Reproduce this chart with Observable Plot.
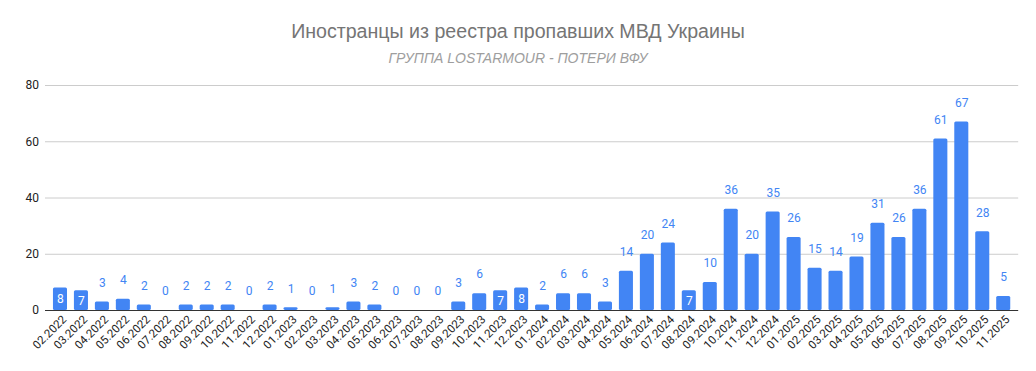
<!DOCTYPE html>
<html>
<head>
<meta charset="utf-8">
<script src="https://cdn.jsdelivr.net/npm/d3@7"></script>
<script src="https://cdn.jsdelivr.net/npm/@observablehq/plot@0.6"></script>
<style>
  html, body { margin: 0; padding: 0; background: #fff; }
  #wrap { width: 1036px; height: 371px; position: relative; overflow: hidden; font-family: Roboto, "Liberation Sans", sans-serif; }
  #head { position: relative; height: 70px; }
  #title { position: absolute; left: 0; width: 1036px; top: 20px; text-align: center; font-size: 19.6px; color: #757575; font-family: "Liberation Sans", Arial, sans-serif; }
  #subtitle { position: absolute; left: 0; width: 1036px; top: 50px; text-align: center; font-size: 14px; font-style: italic; color: #9e9e9e; font-family: "Liberation Sans", Arial, sans-serif; }
  #chart svg { display: block; }
</style>
</head>
<body>
<div id="wrap">
  <div id="head">
    <div id="title">Иностранцы из реестра пропавших МВД Украины</div>
    <div id="subtitle">ГРУППА LOSTARMOUR - ПОТЕРИ ВФУ</div>
  </div>
  <div id="chart"></div>
</div>
<script>
const months = [
  "02.2022","03.2022","04.2022","05.2022","06.2022","07.2022","08.2022","09.2022","10.2022","11.2022","12.2022",
  "01.2023","02.2023","03.2023","04.2023","05.2023","06.2023","07.2023","08.2023","09.2023","10.2023","11.2023","12.2023",
  "01.2024","02.2024","03.2024","04.2024","05.2024","06.2024","07.2024","08.2024","09.2024","10.2024","11.2024","12.2024",
  "01.2025","02.2025","03.2025","04.2025","05.2025","06.2025","07.2025","08.2025","09.2025","10.2025","11.2025"
];
const values = [
  8,7,3,4,2,0,2,2,2,0,2,
  1,0,1,3,2,0,0,0,3,6,7,8,
  2,6,6,3,14,20,24,7,10,36,20,35,
  26,15,14,19,31,26,36,61,67,28,5
];
const insideLabelMonths = ["02.2022","03.2022","11.2023","12.2023","08.2024"];
const yTicks = [0, 20, 40, 60, 80];

const data = months.map((m, i) => ({month: m, value: values[i], inside: insideLabelMonths.includes(m)}));

const blue = "#4285f4";
const chart = Plot.plot({
  width: 1036,
  height: 301,
  marginTop: 15,
  marginBottom: 61,
  marginLeft: 49.5,
  marginRight: 22.3,
  style: {fontFamily: "Roboto, sans-serif", fontSize: "12px", color: "#222", background: "#fff"},
  x: {type: "band", domain: months, paddingInner: 0.33, paddingOuter: 0.165, label: null},
  y: {domain: [0, 80], ticks: yTicks, label: null},
  marks: [
    Plot.ruleY(yTicks.filter(t => t > 0), {stroke: "#cccccc", insetLeft: -4.5, insetRight: -4.5}),
    Plot.barY(data, {x: "month", y: "value", fill: blue, rx: 1.5}),
    Plot.ruleY([0], {stroke: "#333", insetLeft: -4.5, insetRight: -4.5}),
    Plot.axisY({ticks: yTicks, tickSize: 0, tickPadding: 11, fontSize: 12, fill: "#222"}),
    Plot.axisX({tickSize: 0, tickPadding: 4, tickRotate: -45, fontSize: 11.5, fill: "#222", dx: 4, dy: 3}),
    Plot.text(data.filter(d => !d.inside), {x: "month", y: "value", text: d => String(d.value), dy: -19, fill: blue, fontSize: 12}),
    Plot.text(data.filter(d => d.inside), {x: "month", y: d => d.value / 2, text: d => String(d.value), fill: "#fff", fontSize: 12})
  ]
});
document.getElementById("chart").appendChild(chart);
</script>
</body>
</html>
